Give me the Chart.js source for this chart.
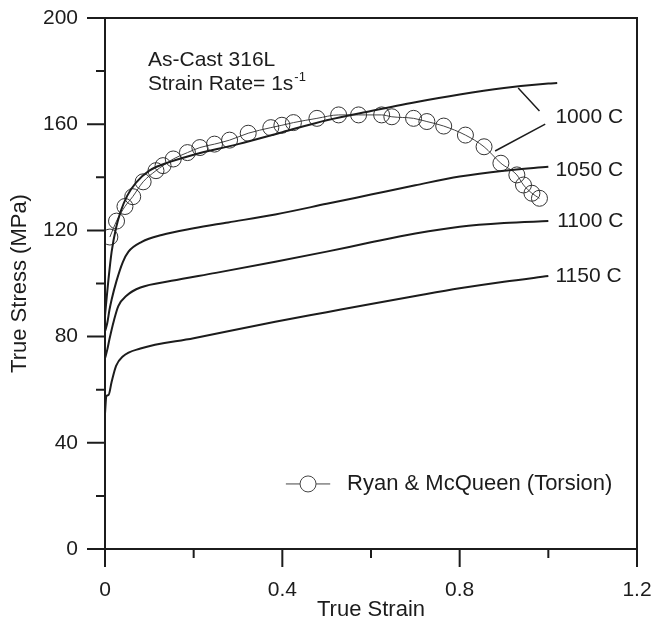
<!DOCTYPE html>
<html>
<head>
<meta charset="utf-8">
<script src="https://cdn.jsdelivr.net/npm/chart.js@4.4.0/dist/chart.umd.min.js"></script>
<style>
  html, body { margin: 0; padding: 0; background: #fff; }
  #wrap { width: 653px; height: 623px; }
</style>
</head>
<body>
<div id="wrap"><canvas id="stressChart" width="653" height="623"></canvas></div>
<script>
// --- dados (true strain / true stress MPa) ---
const strain1000 = [0, 0.004, 0.0075, 0.015, 0.025, 0.035, 0.05, 0.07, 0.1, 0.15, 0.2, 0.3, 0.4, 0.5, 0.6, 0.7, 0.8, 0.9, 1.0, 1.02];
const stress1000 = [88, 95, 101, 112, 121, 127, 133, 138, 142.5, 146, 148.5, 152.5, 157, 161.5, 165, 168.3, 171.2, 173.6, 175.3, 175.5];

const strain1050 = [0, 0.005, 0.01, 0.015, 0.026, 0.04, 0.053, 0.083, 0.128, 0.2, 0.278, 0.384, 0.5, 0.6, 0.7, 0.8, 0.9, 1.0];
const stress1050 = [82, 85, 90, 94, 101, 108, 112, 115.7, 118.3, 120.8, 123, 126, 130, 133.5, 137, 140.3, 142.5, 144];

const strain1100 = [0, 0.005, 0.01, 0.02, 0.03, 0.049, 0.08, 0.15, 0.25, 0.384, 0.5, 0.6, 0.7, 0.8, 0.9, 1.0];
const stress1100 = [71.8, 75, 79, 86, 91.5, 95.5, 98.5, 101, 104, 108.2, 112, 115.5, 118.8, 121.4, 122.8, 123.5];

const strain1150 = [0, 0.003, 0.008, 0.015, 0.025, 0.04, 0.08, 0.2, 0.384, 0.5, 0.6, 0.7, 0.8, 0.9, 1.0];
const stress1150 = [51, 57.5, 58, 63, 69, 72.5, 75.5, 79.4, 85.6, 89.2, 92.3, 95.3, 98.2, 100.7, 102.8];

const strainRyan = [0.011, 0.026, 0.045, 0.0625, 0.086, 0.115, 0.131, 0.154, 0.186, 0.214, 0.247, 0.281, 0.323, 0.374, 0.399, 0.425, 0.478, 0.527, 0.572, 0.624, 0.647, 0.696, 0.726, 0.764, 0.813, 0.855, 0.893, 0.929, 0.944, 0.963, 0.98];
const stressRyan = [117.5, 123.5, 129, 132.7, 138.3, 142.5, 144.4, 146.9, 149.3, 151.2, 152.5, 154, 156.6, 158.7, 159.6, 160.6, 162.2, 163.5, 163.5, 163.5, 162.8, 162.2, 161, 159.3, 155.9, 151.5, 145.3, 140.9, 137.1, 134, 132.1];

const curveLabels = ['1000 C', '1050 C', '1100 C', '1150 C'];
const xTickValues = [0, 0.4, 0.8, 1.2];
const yTickValues = [0, 40, 80, 120, 160, 200];

// posições das anotações (coordenadas de dados)
const labelPos = [[1.016, 162.7], [1.016, 142.7], [1.02, 123.5], [1.016, 102.8]];
const leaderLines = [[[0.932, 173.6], [0.98, 165]], [[0.88, 149.9], [0.993, 160]]];

const FONT = '"Liberation Sans", Arial, sans-serif';
const INK = '#1c1c1c';

function pts(xs, ys) { return xs.map((x, i) => ({ x: x, y: ys[i] })); }

function curve(label, xs, ys) {
    return {
        label: label,
        data: pts(xs, ys),
        borderColor: INK,
        borderWidth: 2,
        pointRadius: 0,
        cubicInterpolationMode: 'monotone',
        fill: false
    };
}

// zera o padding extra que o Chart.js reserva para os rótulos
function noPad(s) {
    s.paddingTop = 0; s.paddingBottom = 0; s.paddingLeft = 0; s.paddingRight = 0;
}

// --- plugin: moldura, ticks maiores/menores, textos e legenda ---
const decorPlugin = {
    id: 'decor',
    afterDraw(chart) {
        const ctx = chart.ctx;
        const a = chart.chartArea;
        const xs = chart.scales.x, ys = chart.scales.y;
        ctx.save();

        // moldura
        ctx.strokeStyle = INK;
        ctx.lineWidth = 2;
        ctx.beginPath();
        ctx.moveTo(a.left, a.bottom); ctx.lineTo(a.left, a.top);
        ctx.moveTo(a.left - 18, a.top); ctx.lineTo(a.right, a.top);
        ctx.lineTo(a.right, a.bottom);
        ctx.moveTo(a.left - 18, a.bottom); ctx.lineTo(a.right, a.bottom);
        ctx.stroke();

        // ticks eixo y
        ctx.beginPath();
        for (let v = 0; v <= 200; v += 20) {
            const py = ys.getPixelForValue(v);
            const len = (v % 40 === 0) ? 18 : 9;
            ctx.moveTo(a.left - len, py); ctx.lineTo(a.left, py);
        }
        // ticks eixo x
        for (let k = 0; k <= 6; k++) {
            const px = xs.getPixelForValue(k * 0.2);
            const len = (k % 2 === 0) ? 18 : 9;
            ctx.moveTo(px, a.bottom); ctx.lineTo(px, a.bottom + len);
        }
        ctx.stroke();

        // linhas de chamada
        ctx.lineWidth = 1.5;
        ctx.beginPath();
        leaderLines.forEach(l => {
            ctx.moveTo(xs.getPixelForValue(l[0][0]), ys.getPixelForValue(l[0][1]));
            ctx.lineTo(xs.getPixelForValue(l[1][0]), ys.getPixelForValue(l[1][1]));
        });
        ctx.stroke();

        // rótulos das curvas
        ctx.fillStyle = INK;
        ctx.font = '21px ' + FONT;
        ctx.textAlign = 'left';
        ctx.textBaseline = 'middle';
        curveLabels.forEach((t, i) => {
            ctx.fillText(t, xs.getPixelForValue(labelPos[i][0]), ys.getPixelForValue(labelPos[i][1]));
        });

        // título interno
        ctx.font = '21px ' + FONT;
        const tx = xs.getPixelForValue(0.097);
        ctx.fillText('As-Cast 316L', tx, ys.getPixelForValue(184));
        const y2 = ys.getPixelForValue(175);
        const base = 'Strain Rate= 1s';
        ctx.fillText(base, tx, y2);
        const w = ctx.measureText(base).width;
        ctx.font = '13px ' + FONT;
        ctx.fillText('-1', tx + w + 1, y2 - 7);

        // legenda
        const ly = ys.getPixelForValue(24.5);
        const lx0 = xs.getPixelForValue(0.408), lx1 = xs.getPixelForValue(0.508);
        const lc = xs.getPixelForValue(0.458);
        ctx.strokeStyle = '#444';
        ctx.lineWidth = 1;
        ctx.beginPath();
        ctx.moveTo(lx0, ly); ctx.lineTo(lc - 8, ly);
        ctx.moveTo(lc + 8, ly); ctx.lineTo(lx1, ly);
        ctx.stroke();
        ctx.beginPath();
        ctx.arc(lc, ly, 8, 0, Math.PI * 2);
        ctx.stroke();
        ctx.fillStyle = INK;
        ctx.font = '22px ' + FONT;
        ctx.fillText('Ryan & McQueen (Torsion)', xs.getPixelForValue(0.546), ly);

        ctx.restore();
    }
};

document.addEventListener('DOMContentLoaded', function() {
    const canvas = document.getElementById('stressChart');

    new Chart(canvas, {
        type: 'line',
        data: {
            datasets: [
                curve('1000 C', strain1000, stress1000),
                curve('1050 C', strain1050, stress1050),
                curve('1100 C', strain1100, stress1100),
                curve('1150 C', strain1150, stress1150),
                {
                    label: 'Ryan & McQueen (Torsion)',
                    data: pts(strainRyan, stressRyan),
                    borderColor: '#444',
                    borderWidth: 1,
                    pointRadius: 8,
                    pointBorderWidth: 1,
                    pointBorderColor: '#333',
                    pointBackgroundColor: 'rgba(0,0,0,0)',
                    cubicInterpolationMode: 'monotone',
                    fill: false
                }
            ]
        },
        options: {
            responsive: false,
            animation: false,
            layout: { padding: { top: 18, right: 16, left: 0, bottom: 0 } },
            plugins: {
                legend: { display: false },
                tooltip: { enabled: false }
            },
            scales: {
                x: {
                    type: 'linear',
                    min: 0,
                    max: 1.2,
                    afterFit: s => { s.height = 74; noPad(s); },
                    grid: { display: false, drawTicks: false },
                    border: { display: false },
                    ticks: {
                        stepSize: 0.2,
                        autoSkip: false,
                        maxRotation: 0,
                        padding: 29,
                        color: INK,
                        font: { family: FONT, size: 21 },
                        callback: v => xTickValues.some(t => Math.abs(t - v) < 1e-6) ? String(+v.toFixed(1)) : ''
                    },
                    title: {
                        display: true,
                        text: 'True Strain',
                        color: INK,
                        font: { family: FONT, size: 22 },
                        padding: { top: 0, bottom: 0 }
                    }
                },
                y: {
                    min: 0,
                    max: 200,
                    afterFit: s => { s.width = 105; noPad(s); },
                    grid: { display: false, drawTicks: false },
                    border: { display: false },
                    ticks: {
                        stepSize: 20,
                        autoSkip: false,
                        padding: 27,
                        color: INK,
                        font: { family: FONT, size: 21 },
                        callback: v => yTickValues.includes(v) ? String(v) : ''
                    },
                    title: {
                        display: true,
                        text: 'True Stress (MPa)',
                        color: INK,
                        font: { family: FONT, size: 22 },
                        padding: { top: 7, bottom: 0 }
                    }
                }
            }
        },
        plugins: [decorPlugin]
    });
});
</script>
</body>
</html>
